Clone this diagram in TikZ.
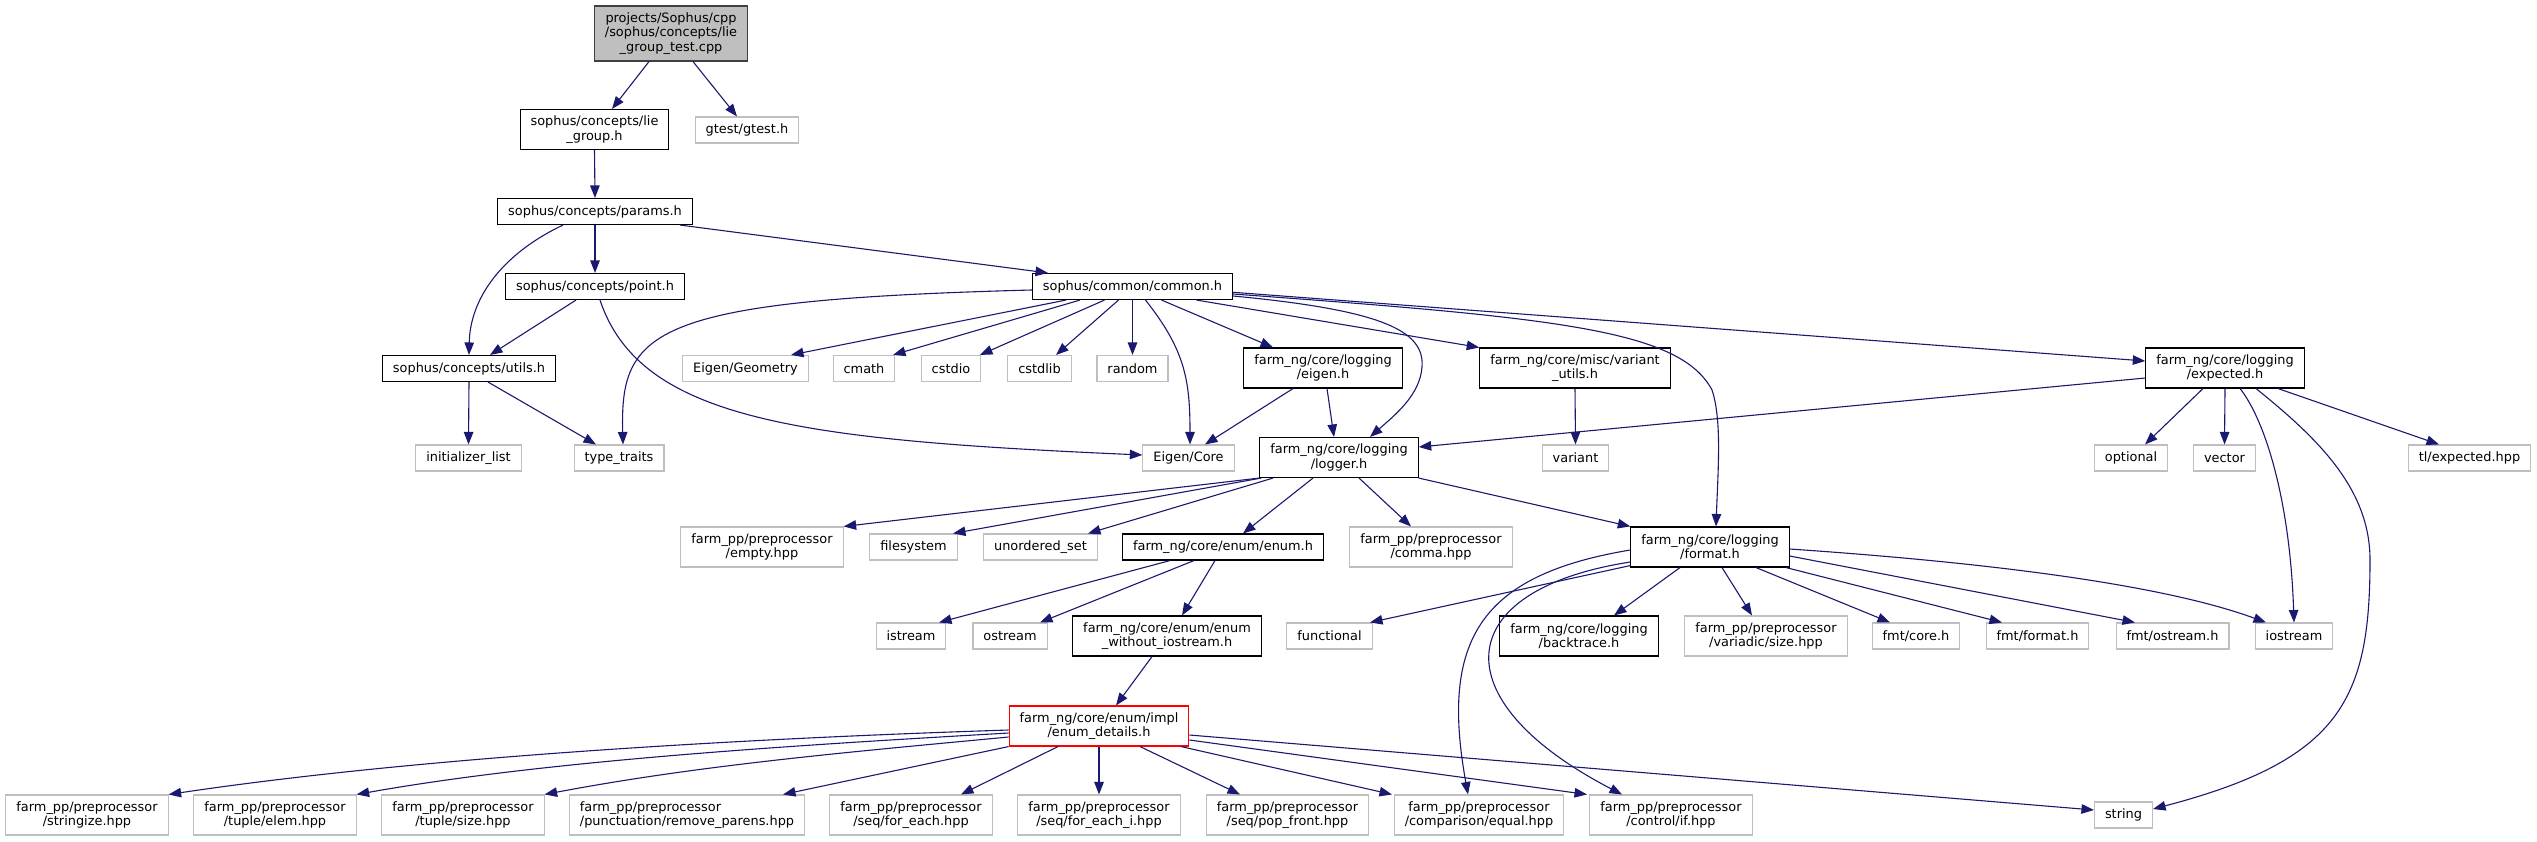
\documentclass[tikz,border=0pt]{standalone}
\usepackage{fontspec}
\setmainfont{DejaVu Sans}
\usetikzlibrary{arrows.meta}
\definecolor{edgecol}{HTML}{191970}
\definecolor{greyl}{HTML}{BFBFBF}
\definecolor{greyd}{HTML}{404040}
\definecolor{truncred}{HTML}{FF0000}
\tikzset{
  nd/.style={draw, line width=1.1pt, fill=white, inner xsep=10.5pt, inner ysep=2pt, align=center, font=\fontsize{12.9}{14.3}\selectfont},
  doc/.style={nd, draw=black},
  ext/.style={nd, draw=greyl},
  rootnode/.style={nd, draw=greyd, fill=greyl},
  trunc/.style={nd, draw=truncred},
  one/.style={minimum height=26pt},
  two/.style={minimum height=40pt},
  three/.style={minimum height=55pt},
  conn/.style={draw=edgecol, line width=1.1pt, -{Triangle[length=12.5pt,width=9.5pt]}}
}
\begin{document}
\begin{tikzpicture}[x=1pt,y=-1pt]
\useasboundingbox (0,0) rectangle (2537,841);
% nodes
\node[rootnode,three] (top) at (671,33.5) {projects/Sophus/cpp\\/sophus/concepts/lie\\\_group\_test.cpp};
\node[doc,two] (lie) at (594.5,129.5) {sophus/concepts/lie\\\_group.h};
\node[ext,one] (gtest) at (747,130) {gtest/gtest.h};
\node[doc,one] (params) at (595,211.5) {sophus/concepts/params.h};
\node[doc,one] (point) at (595,286.5) {sophus/concepts/point.h};
\node[doc,one] (common) at (1132.5,286.5) {sophus/common/common.h};
\node[doc,one] (utils) at (469,368.5) {sophus/concepts/utils.h};
\node[ext,one] (egeom) at (745.5,368.5) {Eigen/Geometry};
\node[ext,one] (cmath) at (864,368.5) {cmath};
\node[ext,one] (cstdio) at (951,368.5) {cstdio};
\node[ext,one] (cstdlib) at (1039.5,368.5) {cstdlib};
\node[ext,one] (random) at (1132.5,368.5) {random};
\node[doc,two] (eigenh) at (1323,368) {farm\_ng/core/logging\\/eigen.h};
\node[doc,two] (varutils) at (1575,368) {farm\_ng/core/misc/variant\\\_utils.h};
\node[doc,two] (expected) at (2225,368) {farm\_ng/core/logging\\/expected.h};
\node[ext,one] (initlist) at (468.5,458) {initializer\_list};
\node[ext,one] (typetraits) at (619,458) {type\_traits};
\node[ext,one] (ecore) at (1188.5,458) {Eigen/Core};
\node[doc,two] (logger) at (1339,457.5) {farm\_ng/core/logging\\/logger.h};
\node[ext,one] (variant) at (1575.5,458) {variant};
\node[ext,one] (optional) at (2131,458) {optional};
\node[ext,one] (vector) at (2224.5,458) {vector};
\node[ext,one] (tlexp) at (2469.5,458) {tl/expected.hpp};
\node[ext,two] (empty) at (762,547) {farm\_pp/preprocessor\\/empty.hpp};
\node[ext,one] (filesystem) at (913.5,547) {filesystem};
\node[ext,one] (uset) at (1040.5,547) {unordered\_set};
\node[doc,one] (enumh) at (1223,547) {farm\_ng/core/enum/enum.h};
\node[ext,two] (comma) at (1431,547) {farm\_pp/preprocessor\\/comma.hpp};
\node[doc,two] (format) at (1710,547) {farm\_ng/core/logging\\/format.h};
\node[ext,one] (istream) at (911,636) {istream};
\node[ext,one] (ostream) at (1010,636) {ostream};
\node[doc,two] (enumwo) at (1167,636) {farm\_ng/core/enum/enum\\\_without\_iostream.h};
\node[ext,one] (functional) at (1329.5,636) {functional};
\node[doc,two] (backtrace) at (1579,636) {farm\_ng/core/logging\\/backtrace.h};
\node[ext,two] (variadic) at (1766,636) {farm\_pp/preprocessor\\/variadic/size.hpp};
\node[ext,one] (fmtcore) at (1916,636) {fmt/core.h};
\node[ext,one] (fmtformat) at (2037.5,636) {fmt/format.h};
\node[ext,one] (fmtostream) at (2172.5,636) {fmt/ostream.h};
\node[ext,one] (iostream) at (2294,636) {iostream};
\node[trunc,two] (details) at (1099,726) {farm\_ng/core/enum/impl\\/enum\_details.h};
\node[ext,two] (stringize) at (87,815) {farm\_pp/preprocessor\\/stringize.hpp};
\node[ext,two] (elem) at (275,815) {farm\_pp/preprocessor\\/tuple/elem.hpp};
\node[ext,two] (tsize) at (463,815) {farm\_pp/preprocessor\\/tuple/size.hpp};
\node[ext,two,align=left] (rparens) at (687,815) {farm\_pp/preprocessor\\/punctuation/remove\_parens.hpp};
\node[ext,two] (foreach) at (911,815) {farm\_pp/preprocessor\\/seq/for\_each.hpp};
\node[ext,two] (foreachi) at (1099,815) {farm\_pp/preprocessor\\/seq/for\_each\_i.hpp};
\node[ext,two] (popfront) at (1287.5,815) {farm\_pp/preprocessor\\/seq/pop\_front.hpp};
\node[ext,two] (equal) at (1479,815) {farm\_pp/preprocessor\\/comparison/equal.hpp};
\node[ext,two] (ctrlif) at (1671,815) {farm\_pp/preprocessor\\/control/if.hpp};
\node[ext,one] (string) at (2123.5,815) {string};
% edges
\draw[conn] ([xshift=-22pt]top.south) -- ([xshift=17.5pt]lie.north);
\draw[conn] ([xshift=22pt]top.south) -- ([xshift=-10pt]gtest.north);
\draw[conn] (lie.south) -- (params.north);
\draw[conn] ([xshift=-32pt]params.south) .. controls (500,255) and (470,300) .. (utils.north);
\draw[conn] (params.south) -- (point.north);
\draw[conn] ([xshift=85pt]params.south) -- ([xshift=-84.5pt]common.north);
\draw[conn] ([xshift=-19pt]point.south) -- ([xshift=21pt]utils.north);
\draw[conn] ([xshift=5pt]point.south) .. controls (640,420) and (800,440) .. ([yshift=3pt]ecore.west);
\draw[conn] (utils.south) -- (initlist.north);
\draw[conn] ([xshift=19pt]utils.south) -- ([xshift=-23pt]typetraits.north);
\draw[conn] ([yshift=-3.5pt]common.west) .. controls (650,300) and (620,330) .. ([xshift=4pt]typetraits.north);
\draw[conn] ([xshift=-66.5pt]common.south) -- ([xshift=45.5pt]egeom.north);
\draw[conn] ([xshift=-52.5pt]common.south) -- ([xshift=29pt]cmath.north);
\draw[conn] ([xshift=-28pt]common.south) -- ([xshift=29pt]cstdio.north);
\draw[conn] ([xshift=-14pt]common.south) -- ([xshift=16.5pt]cstdlib.north);
\draw[conn] (common.south) -- (random.north);
\draw[conn] ([xshift=13pt]common.south) .. controls (1185,350) and (1190,380) .. ([xshift=1.5pt]ecore.north);
\draw[conn] ([xshift=29pt]common.south) -- ([xshift=-50pt]eigenh.north);
\draw[conn] ([yshift=-9.5pt]common.east) .. controls (1380,310) and (1425,330) .. (1422,367) .. controls (1420,395) and (1395,415) .. ([xshift=31pt]logger.north);
\draw[conn] ([xshift=64pt]common.south) -- (varutils.north west);
\draw[conn] ([yshift=-7.5pt]common.east) .. controls (1560,318) and (1680,330) .. (1712,390) .. controls (1722,420) and (1718,470) .. ([xshift=6pt]format.north);
\draw[conn] ([yshift=-5.8pt]common.east) -- ([yshift=7pt]expected.west);
\draw[conn] ([xshift=-30pt]eigenh.south) -- ([xshift=16.5pt]ecore.north);
\draw[conn] ([xshift=4pt]eigenh.south) -- ([xshift=-5pt]logger.north);
\draw[conn] (varutils.south) -- (variant.north);
\draw[conn] ([yshift=-10pt]expected.west) -- ([yshift=10.5pt]logger.east);
\draw[conn] ([xshift=-22pt]expected.south) -- ([xshift=14pt]optional.north);
\draw[conn] (expected.south) -- (vector.north);
\draw[conn] ([xshift=15pt]expected.south) .. controls (2265,420) and (2290,500) .. (iostream.north);
\draw[conn] ([xshift=31pt]expected.south) .. controls (2320,440) and (2370,490) .. (2370,560) .. controls (2370,700) and (2340,760) .. ([yshift=6pt]string.east);
\draw[conn] ([xshift=53pt]expected.south) -- ([xshift=-30.5pt]tlexp.north);
\draw[conn] (logger.south west) -- (empty.north east);
\draw[conn] ([xshift=2pt]logger.south west) -- ([xshift=39.5pt]filesystem.north);
\draw[conn] ([xshift=-66pt]logger.south) -- ([xshift=47.5pt]uset.north);
\draw[conn] ([xshift=-26pt]logger.south) -- ([xshift=20pt]enumh.north);
\draw[conn] ([xshift=20pt]logger.south) -- ([xshift=-20pt]comma.north);
\draw[conn] (logger.south east) -- (format.north west);
\draw[conn] ([xshift=-53pt]enumh.south) -- ([xshift=28pt]istream.north);
\draw[conn] ([xshift=-29pt]enumh.south) -- ([xshift=30pt]ostream.north);
\draw[conn] ([xshift=-8pt]enumh.south) -- ([xshift=15pt]enumwo.north);
\draw[conn] ([xshift=-15pt]enumwo.south) -- ([xshift=17pt]details.north);
\draw[conn] ([yshift=2pt]format.south west) -- ([xshift=40.5pt]functional.north);
\draw[conn] ([xshift=-30pt]format.south) -- ([xshift=35pt]backtrace.north);
\draw[conn] ([xshift=12pt]format.south) -- ([xshift=-14pt]variadic.north);
\draw[conn] ([xshift=46pt]format.south) -- ([xshift=-26pt]fmtcore.north);
\draw[conn] ([xshift=76pt]format.south) -- ([xshift=-35.5pt]fmtformat.north);
\draw[conn] ([yshift=-9pt]format.east) -- ([xshift=-37.5pt]fmtostream.north);
\draw[conn] ([yshift=-2pt]format.east) .. controls (1950,560) and (2150,580) .. ([xshift=-28pt]iostream.north);
\draw[conn] ([yshift=-3pt]format.west) .. controls (1480,575) and (1440,640) .. ([xshift=-11pt]equal.north);
\draw[conn] ([yshift=-15pt]format.west) .. controls (1450,590) and (1440,700) .. ([xshift=-49pt]ctrlif.north);
\draw[conn] ([yshift=-4pt]details.west) .. controls (700,740) and (400,760) .. (stringize.north east);
\draw[conn] ([yshift=-7pt]details.west) .. controls (800,745) and (550,760) .. (elem.north east);
\draw[conn] ([yshift=-11pt]details.west) .. controls (850,752) and (700,765) .. (tsize.north east);
\draw[conn] (details.south west) -- ([xshift=96pt]rparens.north);
\draw[conn] ([xshift=-41pt]details.south) -- ([xshift=50pt]foreach.north);
\draw[conn] (details.south) -- (foreachi.north);
\draw[conn] ([xshift=41pt]details.south) -- ([xshift=-47.5pt]popfront.north);
\draw[conn] ([xshift=82pt]details.south) -- ([xshift=-87pt]equal.north);
\draw[conn] ([yshift=-14pt]details.east) -- ([xshift=-84pt]ctrlif.north);
\draw[conn] ([yshift=-9pt]details.east) -- ([yshift=5pt]string.west);
\end{tikzpicture}
\end{document}
